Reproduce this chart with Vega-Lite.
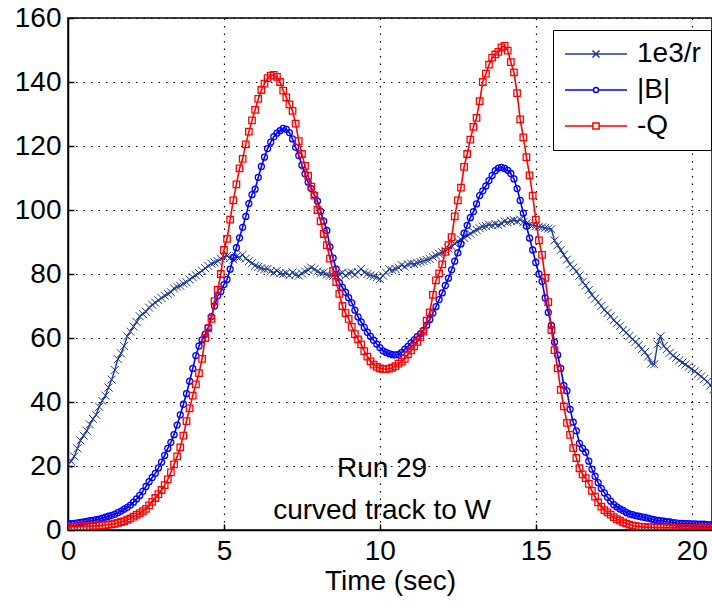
{
"$schema": "https://vega.github.io/schema/vega-lite/v6.json",
"width": 644, "height": 512,
"autosize": {"type": "none"},
"padding": {"left": 68, "top": 18, "right": 0, "bottom": 76},
"background": "white",
"config": {
  "view": {"stroke": "black", "strokeWidth": 1.5},
  "font": "Liberation Sans",
  "axis": {"domainColor": "black", "domainWidth": 1.5, "tickColor": "black", "tickWidth": 1.5, "tickSize": -6, "labelFontSize": 28, "labelColor": "black", "labelFont": "Liberation Sans", "gridColor": "black", "gridDash": [1.5, 6], "gridWidth": 1.2, "gridOpacity": 1, "labelPadding": 13},
  "axisX": {"titleFontSize": 28, "titleFontWeight": "normal", "titleColor": "black", "titleFont": "Liberation Sans", "titlePadding": 2, "labelFlush": false}
},
"data": {"values": [
{"t":0.0,"r":20.5,"b":1.9,"q":1.0},{"t":0.1,"r":21.5,"b":2.0,"q":1.0},{"t":0.2,"r":23,"b":2.1,"q":1.0},{"t":0.3,"r":25.5,"b":2.2,"q":1.05},{"t":0.4,"r":28,"b":2.4,"q":1.1},{"t":0.5,"r":29.5,"b":2.5,"q":1.1},{"t":0.6,"r":31,"b":2.7,"q":1.15},{"t":0.7,"r":33,"b":2.9,"q":1.2},{"t":0.8,"r":34.7,"b":3.0,"q":1.25},{"t":0.9,"r":36,"b":3.2,"q":1.3},
{"t":1.0,"r":38.5,"b":3.4,"q":1.35},{"t":1.1,"r":40.4,"b":3.7,"q":1.45},{"t":1.2,"r":42,"b":4.0,"q":1.55},{"t":1.3,"r":44.5,"b":4.3,"q":1.65},{"t":1.4,"r":47,"b":4.6,"q":1.8},{"t":1.5,"r":50,"b":4.9,"q":1.95},{"t":1.6,"r":53.4,"b":5.4,"q":2.2},{"t":1.7,"r":55.2,"b":5.9,"q":2.5},{"t":1.8,"r":57.5,"b":6.5,"q":2.8},{"t":1.9,"r":60.5,"b":7.1,"q":3.2},
{"t":2.0,"r":62,"b":7.8,"q":3.6},{"t":2.1,"r":63.6,"b":8.7,"q":4.2},{"t":2.2,"r":65,"b":9.7,"q":4.7},{"t":2.3,"r":66.8,"b":10.8,"q":5.3},{"t":2.4,"r":67.5,"b":12.1,"q":5.9},{"t":2.5,"r":68.2,"b":13.6,"q":6.6},{"t":2.6,"r":69.5,"b":15.1,"q":7.7},{"t":2.7,"r":70.4,"b":16.4,"q":8.8},{"t":2.8,"r":71,"b":17.7,"q":10},{"t":2.9,"r":71.8,"b":19.4,"q":11.2},
{"t":3.0,"r":72.5,"b":21.2,"q":12.5},{"t":3.1,"r":73.2,"b":23.3,"q":14},{"t":3.2,"r":73.8,"b":25.5,"q":15.8},{"t":3.3,"r":74.3,"b":27.4,"q":18},{"t":3.4,"r":75.5,"b":29.8,"q":20.5},{"t":3.5,"r":76,"b":32.8,"q":23},{"t":3.6,"r":76.3,"b":36,"q":25.8},{"t":3.7,"r":77,"b":39.3,"q":29.5},{"t":3.8,"r":77.4,"b":42.6,"q":34},{"t":3.9,"r":78.3,"b":46.5,"q":38},
{"t":4.0,"r":79,"b":50.5,"q":42},{"t":4.1,"r":79.6,"b":54.5,"q":45.5},{"t":4.2,"r":80.3,"b":57.5,"q":49},{"t":4.3,"r":81,"b":59.4,"q":53.5},{"t":4.4,"r":81.8,"b":61.2,"q":60},{"t":4.5,"r":82.5,"b":63.3,"q":63},{"t":4.6,"r":83.2,"b":66.7,"q":66},{"t":4.7,"r":83.6,"b":70,"q":71.5},{"t":4.8,"r":84,"b":73.2,"q":75},{"t":4.9,"r":84.8,"b":74.5,"q":80},
{"t":5.0,"r":85.3,"b":76.7,"q":87.5},{"t":5.1,"r":85.7,"b":78.3,"q":91},{"t":5.2,"r":85,"b":81.5,"q":97},{"t":5.3,"r":84.5,"b":85.2,"q":103},{"t":5.4,"r":85.5,"b":88.2,"q":108},{"t":5.5,"r":85.2,"b":91.3,"q":113},{"t":5.6,"r":86,"b":94.6,"q":116},{"t":5.7,"r":84.8,"b":98,"q":120.5},{"t":5.8,"r":84,"b":102,"q":124.5},{"t":5.9,"r":83.4,"b":104.8,"q":128},
{"t":6.0,"r":82.6,"b":106.5,"q":131.3},{"t":6.1,"r":82.2,"b":110.2,"q":134.7},{"t":6.2,"r":81.8,"b":113.6,"q":137.5},{"t":6.3,"r":81.5,"b":116.5,"q":139.5},{"t":6.4,"r":81.6,"b":119.2,"q":141.2},{"t":6.5,"r":80.8,"b":121.2,"q":142},{"t":6.6,"r":80.4,"b":122.9,"q":142.2},{"t":6.7,"r":81,"b":124,"q":141.6},{"t":6.8,"r":80.2,"b":124.8,"q":140},{"t":6.9,"r":80,"b":125.5,"q":137.3},
{"t":7.0,"r":80.3,"b":125.2,"q":135.2},{"t":7.1,"r":79.6,"b":124.2,"q":133},{"t":7.2,"r":80.5,"b":122.2,"q":131},{"t":7.3,"r":79.8,"b":119.6,"q":127},{"t":7.4,"r":79.5,"b":117,"q":121.5},{"t":7.5,"r":80.2,"b":114,"q":117.5},{"t":7.6,"r":80.8,"b":111.3,"q":113.8},{"t":7.7,"r":81.3,"b":108.7,"q":110.7},{"t":7.8,"r":82,"b":106.7,"q":107.3},{"t":7.9,"r":81.5,"b":104.7,"q":104.5},
{"t":8.0,"r":80.8,"b":102.8,"q":100},{"t":8.1,"r":80.3,"b":99.6,"q":96.5},{"t":8.2,"r":80.5,"b":96.5,"q":92.5},{"t":8.3,"r":79.8,"b":93.6,"q":89},{"t":8.4,"r":79.5,"b":88.5,"q":84.8},{"t":8.5,"r":79.4,"b":85,"q":81},{"t":8.6,"r":79.5,"b":81.5,"q":77.5},{"t":8.7,"r":80,"b":77.3,"q":73.8},{"t":8.8,"r":80.4,"b":75.8,"q":70},{"t":8.9,"r":79.5,"b":74.3,"q":67.8},
{"t":9.0,"r":80.2,"b":72.6,"q":66},{"t":9.1,"r":80.5,"b":71,"q":63.5},{"t":9.2,"r":79.8,"b":68.7,"q":61.2},{"t":9.3,"r":80.6,"b":66.6,"q":59.6},{"t":9.4,"r":81.6,"b":65,"q":58},{"t":9.5,"r":80.5,"b":63.3,"q":55.9},{"t":9.6,"r":80,"b":61.8,"q":54.2},{"t":9.7,"r":79.6,"b":60.5,"q":52.7},{"t":9.8,"r":79.3,"b":59.3,"q":51.7},{"t":9.9,"r":79,"b":58.1,"q":51},
{"t":10.0,"r":78.4,"b":57,"q":50.5},{"t":10.1,"r":79.5,"b":56,"q":50.3},{"t":10.2,"r":80.4,"b":55.5,"q":50.3},{"t":10.3,"r":81.5,"b":55.1,"q":50.4},{"t":10.4,"r":81.2,"b":54.8,"q":50.7},{"t":10.5,"r":81.6,"b":54.7,"q":51.2},{"t":10.6,"r":82,"b":54.9,"q":52},{"t":10.7,"r":82.8,"b":55.5,"q":52.6},{"t":10.8,"r":82.3,"b":56.5,"q":53.5},{"t":10.9,"r":83,"b":57.4,"q":54.9},
{"t":11.0,"r":83.3,"b":58.5,"q":56.1},{"t":11.1,"r":83.1,"b":59.4,"q":57.4},{"t":11.2,"r":83.5,"b":60.4,"q":58.8},{"t":11.3,"r":83.8,"b":61.3,"q":60.3},{"t":11.4,"r":84,"b":62.4,"q":62},{"t":11.5,"r":84.4,"b":64,"q":65.4},{"t":11.6,"r":84.7,"b":65.8,"q":68},{"t":11.7,"r":85.3,"b":67.8,"q":73.5},{"t":11.8,"r":85.8,"b":69.8,"q":78},{"t":11.9,"r":86.3,"b":72,"q":80.2},
{"t":12.0,"r":86.8,"b":74.1,"q":83},{"t":12.1,"r":87.3,"b":76.4,"q":86.9},{"t":12.2,"r":88,"b":78.7,"q":89},{"t":12.3,"r":88.7,"b":81.3,"q":91.5},{"t":12.4,"r":89.5,"b":84,"q":98},{"t":12.5,"r":90.2,"b":86.6,"q":103},{"t":12.6,"r":90.8,"b":89.4,"q":107},{"t":12.7,"r":91.3,"b":92.8,"q":113.5},{"t":12.8,"r":92,"b":95.2,"q":117.5},{"t":12.9,"r":92.6,"b":97.6,"q":122},
{"t":13.0,"r":93.2,"b":99.5,"q":126},{"t":13.1,"r":93.8,"b":101.9,"q":128.8},{"t":13.2,"r":94.3,"b":104.5,"q":134},{"t":13.3,"r":94.8,"b":106,"q":140},{"t":13.4,"r":95,"b":107.5,"q":142.6},{"t":13.5,"r":95.4,"b":109.2,"q":145.4},{"t":13.6,"r":95.2,"b":110.8,"q":147.6},{"t":13.7,"r":95.6,"b":112.3,"q":148.6},{"t":13.8,"r":95.3,"b":113.1,"q":149.4},{"t":13.9,"r":95.8,"b":113.3,"q":150.8},
{"t":14.0,"r":96.4,"b":113,"q":151.3},{"t":14.1,"r":96.1,"b":112.4,"q":149.8},{"t":14.2,"r":96.6,"b":111.4,"q":146.2},{"t":14.3,"r":96.8,"b":109.7,"q":143},{"t":14.4,"r":96.5,"b":106.7,"q":136.5},{"t":14.5,"r":97,"b":103,"q":128.3},{"t":14.6,"r":96.2,"b":99,"q":122.7},{"t":14.7,"r":95.8,"b":95,"q":116.5},{"t":14.8,"r":95.5,"b":91.2,"q":110.8},{"t":14.9,"r":95.2,"b":87.5,"q":104.5},
{"t":15.0,"r":95,"b":83.6,"q":97},{"t":15.1,"r":94.8,"b":80,"q":90.5},{"t":15.2,"r":94.6,"b":77.7,"q":86},{"t":15.3,"r":94.4,"b":72.5,"q":78.8},{"t":15.4,"r":94.2,"b":68,"q":71.2},{"t":15.5,"r":94,"b":63.9,"q":62.5},{"t":15.6,"r":90.5,"b":58.7,"q":56.2},{"t":15.7,"r":89,"b":54.7,"q":50.5},{"t":15.8,"r":87.5,"b":50.5,"q":43.8},{"t":15.9,"r":86,"b":45.2,"q":38.6},
{"t":16.0,"r":84.5,"b":43.5,"q":33.5},{"t":16.1,"r":83,"b":37.7,"q":29.7},{"t":16.2,"r":82,"b":33.7,"q":25.6},{"t":16.3,"r":80.8,"b":31,"q":22.5},{"t":16.4,"r":79.5,"b":27.1,"q":19.3},{"t":16.5,"r":77.5,"b":25.5,"q":17.4},{"t":16.6,"r":76.4,"b":24.3,"q":16.2},{"t":16.7,"r":75,"b":21.5,"q":14.4},{"t":16.8,"r":73.5,"b":19,"q":12.2},{"t":16.9,"r":72.3,"b":16.8,"q":10.4},
{"t":17.0,"r":71.2,"b":14.8,"q":8.6},{"t":17.1,"r":70,"b":13,"q":7.3},{"t":17.2,"r":68.8,"b":11.6,"q":6.2},{"t":17.3,"r":67.8,"b":10.2,"q":5.5},{"t":17.4,"r":66.8,"b":9.0,"q":4.8},{"t":17.5,"r":65.6,"b":7.9,"q":4.0},{"t":17.6,"r":64.6,"b":7.2,"q":3.4},{"t":17.7,"r":63.8,"b":6.6,"q":2.9},{"t":17.8,"r":62.5,"b":6.1,"q":2.4},{"t":17.9,"r":61.7,"b":5.5,"q":2.0},
{"t":18.0,"r":60.6,"b":5.0,"q":1.7},{"t":18.1,"r":59.6,"b":4.8,"q":1.4},{"t":18.2,"r":58.8,"b":4.5,"q":1.2},{"t":18.3,"r":57.8,"b":4.3,"q":1.05},{"t":18.4,"r":56.5,"b":4.1,"q":0.95},{"t":18.5,"r":55.6,"b":3.9,"q":0.9},{"t":18.6,"r":54.2,"b":3.7,"q":0.85},{"t":18.7,"r":52,"b":3.4,"q":0.8},{"t":18.8,"r":51.8,"b":3.2,"q":0.8},{"t":18.9,"r":58,"b":3.0,"q":0.75},
{"t":19.0,"r":60.5,"b":2.9,"q":0.75},{"t":19.1,"r":57.5,"b":2.8,"q":0.7},{"t":19.2,"r":56.5,"b":2.6,"q":0.7},{"t":19.3,"r":55.4,"b":2.5,"q":0.7},{"t":19.4,"r":54.5,"b":2.3,"q":0.65},{"t":19.5,"r":53.8,"b":2.2,"q":0.65},{"t":19.6,"r":53,"b":2.1,"q":0.65},{"t":19.7,"r":52.3,"b":2.1,"q":0.6},{"t":19.8,"r":51.7,"b":2.0,"q":0.6},{"t":19.9,"r":51,"b":2.0,"q":0.6},
{"t":20.0,"r":50.3,"b":1.9,"q":0.6},{"t":20.1,"r":49.6,"b":1.9,"q":0.55},{"t":20.2,"r":48.8,"b":1.8,"q":0.55},{"t":20.3,"r":48,"b":1.8,"q":0.55},{"t":20.4,"r":47.2,"b":1.8,"q":0.55},{"t":20.5,"r":46.3,"b":1.7,"q":0.5},{"t":20.6,"r":45.2,"b":1.7,"q":0.5},{"t":20.7,"r":44,"b":1.7,"q":0.5}
]},
"layer": [
  {"mark": {"type": "line", "strokeWidth": 1.4, "clip": true},
   "encoding": {
     "x": {"field": "t", "type": "quantitative", "title": "Time (sec)", "scale": {"domain": [0, 20.65], "nice": false, "zero": false}, "axis": {"values": [0, 5, 10, 15, 20]}},
     "y": {"field": "r", "type": "quantitative", "title": null, "scale": {"domain": [0, 160], "nice": false}, "axis": {"values": [0, 20, 40, 60, 80, 100, 120, 140, 160]}},
     "color": {"datum": "1e3/r", "scale": {"domain": ["1e3/r", "|B|", "-Q"], "range": ["#1f3a93", "#0000ff", "#ff0000"]},
       "legend": {"orient": "none", "legendX": 485, "legendY": 12, "title": null, "strokeColor": "black", "fillColor": "white", "padding": 10, "labelFontSize": 28, "labelFont": "Liberation Sans", "labelColor": "black", "symbolSize": 100, "symbolOffset": 19, "labelOffset": 27, "symbolStrokeWidth": 1.5, "rowPadding": 8, "cornerRadius": 0,
         "labelExpr": "datum.label + '  '",
         "encode": {"symbols": {"update": {"shape": {"signal": "datum.value === '1e3/r' ? 'M-6.2,0L6.2,0M-0.7,-0.7L0.7,0.7M0.7,-0.7L-0.7,0.7' : datum.value === '|B|' ? 'M-6.2,0L-0.5,0M0.5,0L6.2,0M-0.5,0A0.5,0.5,0,1,0,0.5,0A0.5,0.5,0,1,0,-0.5,0' : 'M-6.2,0L-0.62,0M0.62,0L6.2,0M-0.62,-0.62L0.62,-0.62L0.62,0.62L-0.62,0.62Z'"}, "fill": {"value": "transparent"}}}}}}
   }},
  {"mark": {"type": "point", "shape": "M-1,-1L1,1M1,-1L-1,1", "filled": false, "stroke": "#1f3a93", "strokeWidth": 1, "size": 64, "opacity": 1, "clip": true},
   "encoding": {"x": {"field": "t", "type": "quantitative", "title": "Time (sec)"}, "y": {"field": "r", "type": "quantitative", "title": null}}},
  {"mark": {"type": "line", "strokeWidth": 1.6, "clip": true},
   "encoding": {"x": {"field": "t", "type": "quantitative", "title": "Time (sec)"}, "y": {"field": "b", "type": "quantitative", "title": null}, "color": {"datum": "|B|"}}},
  {"mark": {"type": "point", "shape": "circle", "filled": false, "stroke": "#0000ff", "strokeWidth": 1.3, "size": 36, "opacity": 1, "clip": true},
   "encoding": {"x": {"field": "t", "type": "quantitative", "title": "Time (sec)"}, "y": {"field": "b", "type": "quantitative", "title": null}}},
  {"mark": {"type": "line", "strokeWidth": 1.6, "clip": true},
   "encoding": {"x": {"field": "t", "type": "quantitative", "title": "Time (sec)"}, "y": {"field": "q", "type": "quantitative", "title": null}, "color": {"datum": "-Q"}}},
  {"mark": {"type": "point", "shape": "square", "filled": false, "stroke": "#ff0000", "strokeWidth": 1.3, "size": 42, "opacity": 1, "clip": true},
   "encoding": {"x": {"field": "t", "type": "quantitative", "title": "Time (sec)"}, "y": {"field": "q", "type": "quantitative", "title": null}}},
  {"data": {"values": [{"t": 10.07, "v": 19, "label": "Run 29"}, {"t": 10.07, "v": 6, "label": "curved track to W"}]},
   "mark": {"type": "text", "fontSize": 28, "font": "Liberation Sans", "color": "black"},
   "encoding": {"x": {"field": "t", "type": "quantitative", "title": "Time (sec)"}, "y": {"field": "v", "type": "quantitative", "title": null}, "text": {"field": "label"}}}
]
}
